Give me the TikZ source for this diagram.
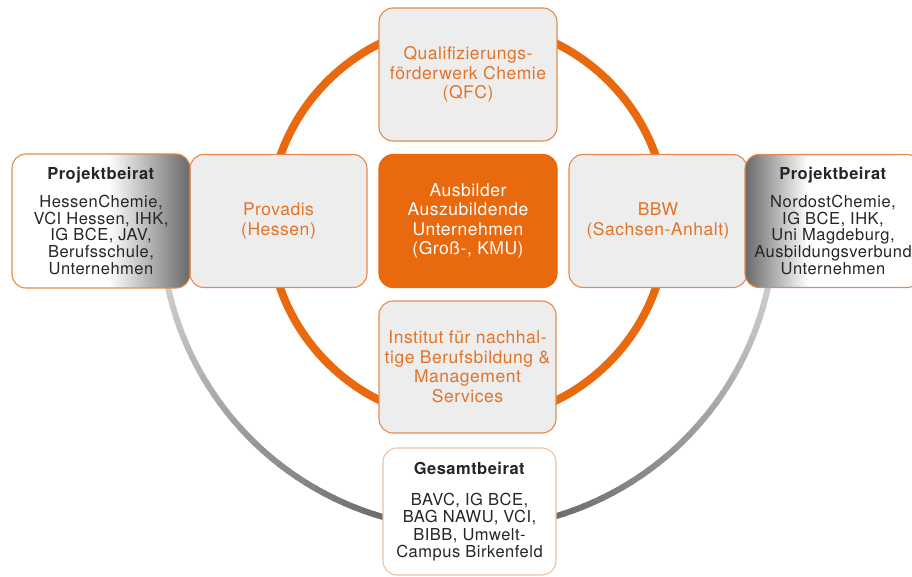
\documentclass[tikz,border=0pt]{standalone}
\usepackage{fontspec}
\setmainfont{TeX Gyre Heros}[LetterSpace=3]
\usetikzlibrary{calc}
\definecolor{orangeM}{HTML}{E8690E}
\definecolor{orangeT}{HTML}{E2742A}
\definecolor{orangeB}{HTML}{E48A4C}
\definecolor{boxgray}{HTML}{EDEDED}
\definecolor{pbgray}{HTML}{696969}
\definecolor{arclight}{HTML}{CBCBCB}
\definecolor{arcdark}{HTML}{6C6C6C}
\definecolor{textblack}{HTML}{262626}
\definecolor{beige}{HTML}{EBC3A0}
\pgfdeclarehorizontalshading{pbleftshade}{100bp}{color(0bp)=(white); color(25bp)=(white); color(52bp)=(white); color(75bp)=(pbgray); color(100bp)=(pbgray)}
\pgfdeclarehorizontalshading{pbrightshade}{100bp}{color(0bp)=(pbgray); color(25bp)=(pbgray); color(43bp)=(white); color(100bp)=(white)}
\tikzset{
  lbox/.style={rectangle, rounded corners=14pt, draw=orangeB, line width=1.1pt,
    fill=boxgray, minimum width=178pt, minimum height=133pt, inner sep=0pt,
    align=center, text=orangeT, font=\fontsize{17.5}{19.5}\selectfont},
  cbox/.style={lbox, fill=orangeM, draw=orangeM, text=white},
  pbbox/.style={lbox, text=textblack, font=\fontsize{16.5}{16.8}\selectfont},
  gbox/.style={lbox, fill=white, draw=beige, text=textblack, font=\fontsize{16.5}{17.3}\selectfont},
  ringO/.style={draw=orangeM, line width=8pt},
  ringG/.style={line width=6pt}
}
\begin{document}
\begin{tikzpicture}[x=1pt,y=1pt]
\useasboundingbox (0,0) rectangle (912,576);
\coordinate (C) at (468,354);
% gray outer arc with gradient
\foreach \a in {184,186,...,356}{
  \pgfmathsetmacro{\d}{abs(\a+1-270)}
  \pgfmathtruncatemacro{\p}{max(0,min(100,(\d-16)*100/60))}
  \draw[ringG, draw=arclight!\p!arcdark] ([shift={(\a:307pt)}]C) arc[start angle=\a, end angle=\a+2.3, radius=307pt];
}
% orange inner ring
\draw[ringO] (C) circle[radius=199pt];
% boxes
\node[lbox] (qfc) at (468,501.5) {Qualifizierungs-\\förderwerk Chemie\\(QFC)};
\node[lbox, minimum width=177pt] (prov) at (278.5,355) {Provadis\\(Hessen)};
\node[cbox] (mid) at (468,355) {Ausbilder\\Auszubildende\\Unternehmen\\(Groß-, KMU)};
\node[lbox] (bbw) at (658,355) {BBW\\(Sachsen-Anhalt)};
\node[lbox, minimum height=132pt, minimum width=177pt] (inst) at (467.5,209) {Institut für nachhal-\\tige Berufsbildung \&\\Management\\Services};
\node[pbbox, shade, shading=pbleftshade, minimum height=134pt] (pbl) at (101,355)
  {\textbf{Projektbeirat}\\[11pt]HessenChemie,\\VCI Hessen, IHK,\\IG BCE, JAV,\\Berufsschule,\\Unternehmen};
\node[pbbox, shade, shading=pbrightshade, minimum width=176pt] (pbr) at (833,355)
  {\textbf{Projektbeirat}\\[11pt]NordostChemie,\\IG BCE, IHK,\\Uni Magdeburg,\\Ausbildungsverbund\\Unternehmen};
\node[gbox, minimum width=173pt, minimum height=127pt] (ges) at (469.5,64.5)
  {\textbf{Gesamtbeirat}\\[14pt]BAVC, IG BCE,\\BAG NAWU, VCI,\\BIBB, Umwelt-\\Campus Birkenfeld};
\end{tikzpicture}
\end{document}
